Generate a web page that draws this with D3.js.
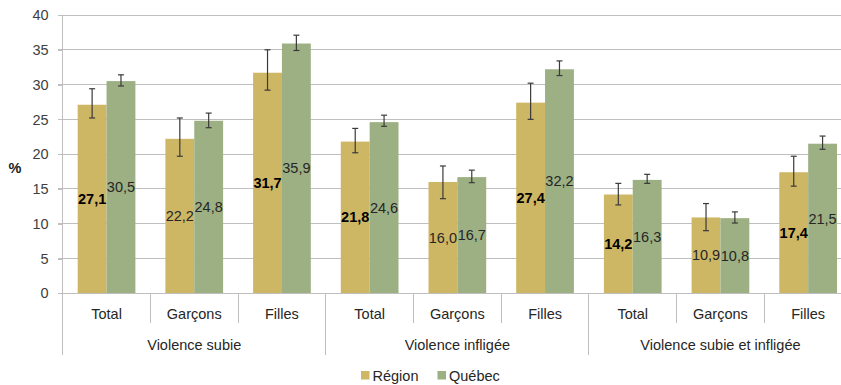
<!DOCTYPE html>
<html><head><meta charset="utf-8">
<script src="https://cdn.jsdelivr.net/npm/d3@7"></script>
<style>
html,body{margin:0;padding:0;background:#fff;}
svg{display:block;font-family:"Liberation Sans",Arial,sans-serif;}
</style></head>
<body><svg id="c" width="841" height="385"></svg>
<script>
const groups = ["Violence subie", "Violence infligée", "Violence subie et infligée"];
const categories = ["Total", "Garçons", "Filles", "Total", "Garçons", "Filles", "Total", "Garçons", "Filles"];
const seriesNames = ["Région", "Québec"];
const regionValues = [27.1, 22.2, 31.7, 21.8, 16.0, 27.4, 14.2, 10.9, 17.4];
const regionLow    = [25.2, 19.7, 29.2, 20.2, 13.6, 25.0, 12.7, 9.0, 15.4];
const regionHigh   = [29.4, 25.2, 35.0, 23.7, 18.3, 30.2, 15.8, 12.9, 19.7];
const regionBold   = [true, false, true, true, false, true, true, false, true];
const quebecValues = [30.5, 24.8, 35.9, 24.6, 16.7, 32.2, 16.3, 10.8, 21.5];
const quebecLow    = [29.8, 23.8, 34.9, 24.0, 15.9, 31.3, 15.8, 10.1, 20.7];
const quebecHigh   = [31.4, 25.9, 37.1, 25.6, 17.7, 33.4, 17.1, 11.7, 22.6];
const yTicks = [0, 5, 10, 15, 20, 25, 30, 35, 40];

const colors = {"Région": "#CDB664", "Québec": "#9CB083"};
const fs = 14.5;
const svg = d3.select("#c");
const pLeft = 62.7, pRight = 852, pTop = 15, pBottom = 293.3;

const idx = categories.map((d, i) => i);
const x0 = d3.scaleBand().domain(idx).range([pLeft, pRight]).padding(0);
const bw = x0.bandwidth();
const x1 = d3.scaleBand().domain(seriesNames).range([15, bw - 15]).padding(0);
const y = d3.scaleLinear().domain([0, 40]).range([pBottom, pTop]);

// gridlines
svg.append("g").selectAll("line").data(yTicks.filter(t => t > 0)).join("line")
  .attr("x1", pLeft - 5).attr("x2", 841).attr("y1", d => y(d)).attr("y2", d => y(d))
  .attr("stroke", "#BFBFBF").attr("stroke-width", 1).attr("shape-rendering", "crispEdges");

// y axis
const yAxis = d3.axisLeft(y).tickValues(yTicks).tickSize(5).tickPadding(9).tickFormat(d => d);
const ya = svg.append("g").attr("transform", `translate(${pLeft},0)`).call(yAxis);
ya.select(".domain").remove();
ya.selectAll(".tick line").attr("stroke", "#BFBFBF").attr("shape-rendering", "crispEdges");
ya.selectAll(".tick text").attr("font-size", fs).attr("fill", "#404040").attr("font-family", "Liberation Sans, Arial, sans-serif");
svg.append("line").attr("x1", pLeft).attr("x2", pLeft).attr("y1", pTop).attr("y2", 355)
  .attr("stroke", "#BFBFBF").attr("shape-rendering", "crispEdges");

svg.append("text").attr("x", 15).attr("y", 168).attr("text-anchor", "middle").attr("dominant-baseline", "central")
  .attr("font-size", fs).attr("font-weight", "bold").attr("fill", "#222").text("%");

// data rows
const rows = idx.map(i => ({
  i,
  vals: [
    {s: "Région", v: regionValues[i], lo: regionLow[i], hi: regionHigh[i], b: regionBold[i]},
    {s: "Québec", v: quebecValues[i], lo: quebecLow[i], hi: quebecHigh[i], b: false}
  ]
}));

const cat = svg.append("g").selectAll("g").data(rows).join("g")
  .attr("transform", d => `translate(${x0(d.i)},0)`);

cat.selectAll("rect").data(d => d.vals).join("rect")
  .attr("x", d => x1(d.s)).attr("width", x1.bandwidth())
  .attr("y", d => y(d.v)).attr("height", d => y(0) - y(d.v))
  .attr("fill", d => colors[d.s]);

// error bars
const eb = cat.selectAll("g.eb").data(d => d.vals).join("g").attr("class", "eb")
  .attr("stroke", "#3a3a3a").attr("stroke-width", 1.2);
eb.append("line").attr("x1", d => x1(d.s) + x1.bandwidth() / 2).attr("x2", d => x1(d.s) + x1.bandwidth() / 2)
  .attr("y1", d => y(d.hi)).attr("y2", d => y(d.lo));
eb.append("line").attr("x1", d => x1(d.s) + x1.bandwidth() / 2 - 3).attr("x2", d => x1(d.s) + x1.bandwidth() / 2 + 3)
  .attr("y1", d => y(d.hi)).attr("y2", d => y(d.hi));
eb.append("line").attr("x1", d => x1(d.s) + x1.bandwidth() / 2 - 3).attr("x2", d => x1(d.s) + x1.bandwidth() / 2 + 3)
  .attr("y1", d => y(d.lo)).attr("y2", d => y(d.lo));

// value labels
cat.selectAll("text.val").data(d => d.vals).join("text").attr("class", "val")
  .attr("x", d => x1(d.s) + x1.bandwidth() / 2)
  .attr("y", d => (y(d.v) + y(0)) / 2)
  .attr("text-anchor", "middle").attr("dominant-baseline", "central")
  .attr("font-size", fs)
  .attr("font-weight", d => d.b ? "bold" : "normal")
  .attr("fill", d => d.b ? "#000" : "#262626")
  .text(d => d.v.toFixed(1).replace(".", ","));

// x axis line
svg.append("line").attr("x1", pLeft - 5).attr("x2", 841).attr("y1", pBottom).attr("y2", pBottom)
  .attr("stroke", "#BFBFBF").attr("shape-rendering", "crispEdges");

// separators
svg.append("g").selectAll("line").data(idx.slice(1)).join("line")
  .attr("x1", d => x0(d)).attr("x2", d => x0(d))
  .attr("y1", pBottom).attr("y2", d => d % 3 === 0 ? 355 : 323)
  .attr("stroke", "#BFBFBF").attr("shape-rendering", "crispEdges");

// category labels
svg.append("g").selectAll("text").data(idx).join("text")
  .attr("x", d => x0(d) + bw / 2).attr("y", 314)
  .attr("text-anchor", "middle").attr("dominant-baseline", "central")
  .attr("font-size", fs).attr("fill", "#262626").text(d => categories[d]);

// group labels
svg.append("g").selectAll("text").data(groups).join("text")
  .attr("x", (d, g) => (x0(g * 3) + x0(g * 3 + 2) + bw) / 2).attr("y", 345)
  .attr("text-anchor", "middle").attr("dominant-baseline", "central")
  .attr("font-size", fs).attr("fill", "#262626").text(d => d);

// legend
const leg = svg.append("g");
const legX = [361, 437.5];
seriesNames.forEach((s, k) => {
  leg.append("rect").attr("x", legX[k]).attr("y", 371).attr("width", 8.5).attr("height", 8.5).attr("fill", colors[s]);
  leg.append("text").attr("x", legX[k] + 11.5).attr("y", 375.5).attr("dominant-baseline", "central")
    .attr("font-size", fs).attr("fill", "#262626").text(s);
});
</script></body></html>
